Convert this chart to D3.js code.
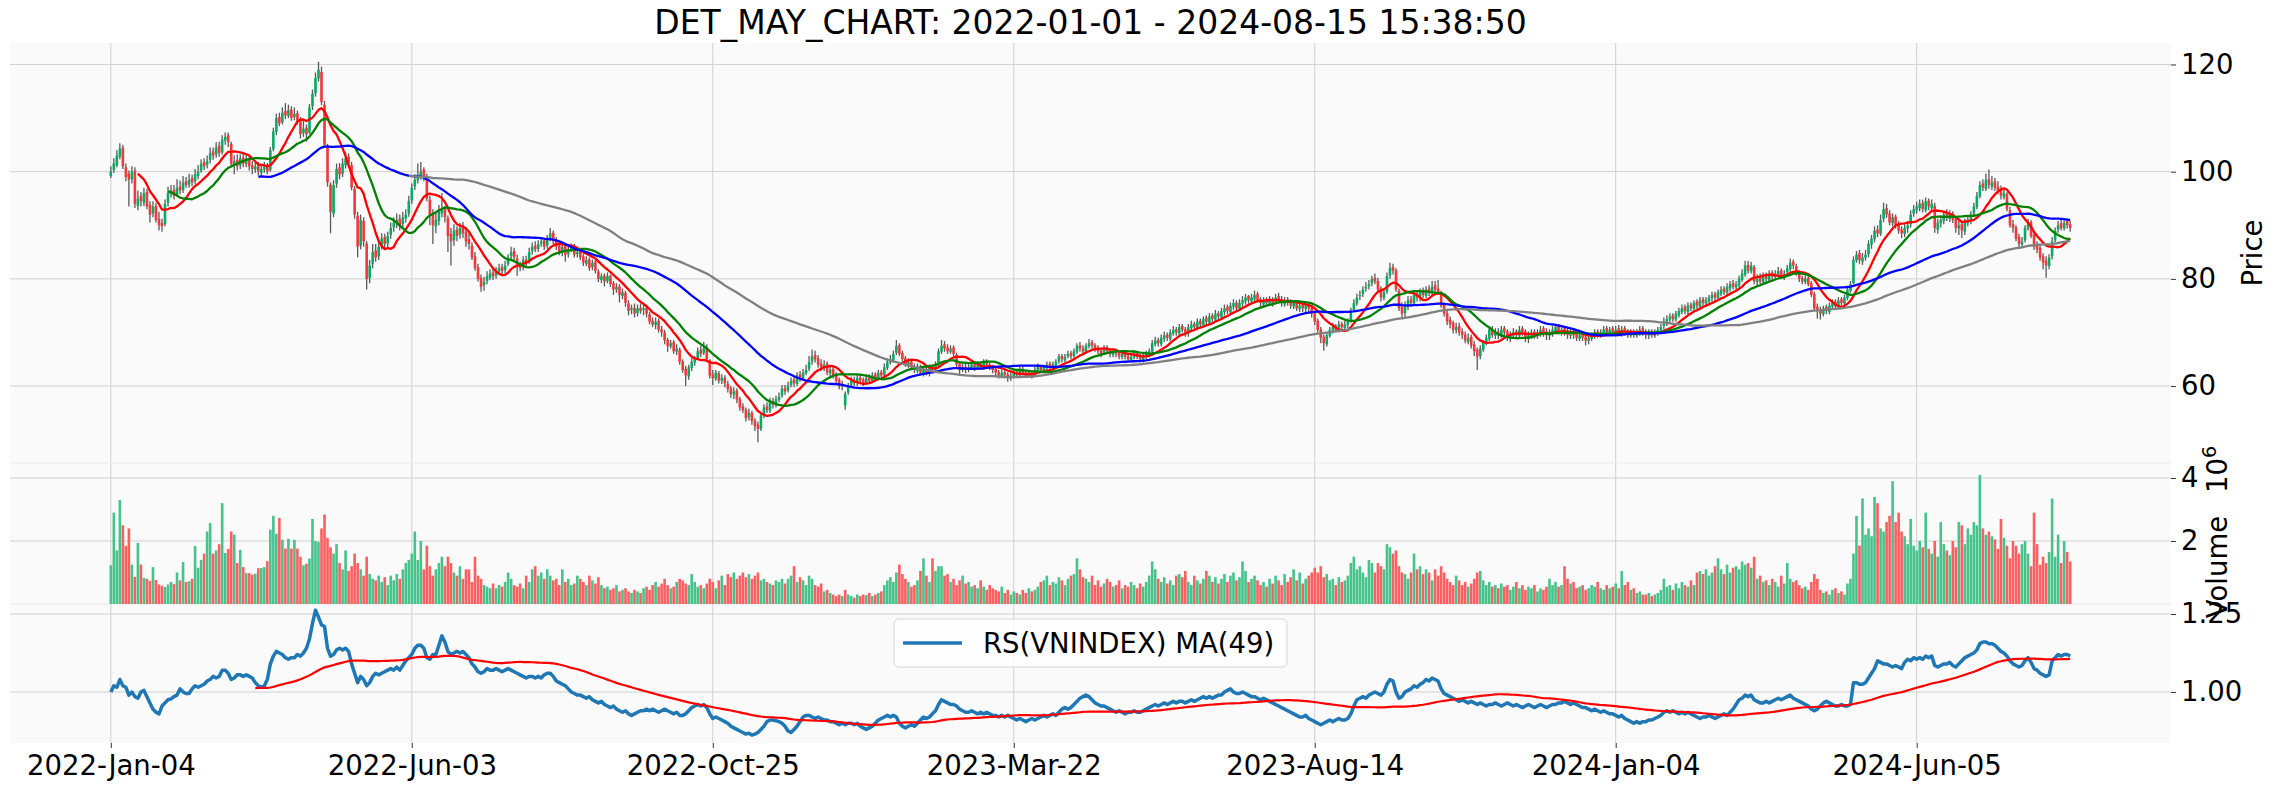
<!DOCTYPE html>
<html>
<head>
<meta charset="utf-8">
<script src="https://cdn.jsdelivr.net/npm/d3@7"></script>
<style>
  body { margin: 0; background: #fff; }
  svg text { font-family: "DejaVu Sans", sans-serif; fill: #000; }
</style>
</head>
<body>
<div id="chart"></div>
<script>
// daily candles, one value per trading day (index 0 = 2022-01-04)
const opens = [
/*0*/ 99.2,100.3,101.2,102.8,104.5,100.8,99.6,98.6,100.2,93.6,
/*10*/ 95.5,94.2,96.2,93.8,92.2,93.6,91.2,90.4,90.2,94.2,
/*20*/ 95.8,96.6,95.8,97.2,96.6,98.2,97.6,98.8,98.2,99.2,
/*30*/ 100.2,101.8,101.2,102.2,103.8,103.2,104.8,103.6,105.8,106.8,
/*40*/ 105.2,101.3,102.2,101.2,102.6,101.4,102.3,101.2,100.4,101.2,
/*50*/ 99.8,100.4,101.2,100.3,104.2,107.4,110.2,109.2,111.3,110.4,
/*60*/ 111.6,110.2,110.9,109.6,107.2,108.2,107.3,112.2,114.6,117.4,
/*70*/ 118.6,112.5,104.6,97.6,92.2,97.8,100.8,99.6,101.2,102.8,
/*80*/ 101.2,96.8,91.8,86.2,90.8,86.6,80.2,82.8,85.3,84.2,
/*90*/ 86.2,87.8,86.6,88.2,89.6,90.4,91.2,90.2,91.3,92.2,
/*100*/ 94.6,97.2,98.4,99.2,100.4,99.2,94.8,92.2,89.8,90.8,
/*110*/ 92.2,93.2,91.4,88.4,87.2,89.2,88.2,89.6,88.8,87.4,
/*120*/ 86.2,84.2,82.2,80.2,78.8,79.6,80.2,81.2,80.6,81.4,
/*130*/ 82.2,81.6,82.8,84.2,85.2,83.8,82.6,82.2,83.6,83.2,
/*140*/ 85.2,86.2,85.6,86.6,87.2,86.2,87.6,88.6,87.2,86.2,
/*150*/ 84.8,86.2,84.6,85.4,86.2,84.6,85.2,84.2,82.8,83.6,
/*160*/ 82.2,83.2,81.4,79.8,80.6,79.6,80.6,79.2,78,78.6,
/*170*/ 76.8,77.4,75.4,74.2,74.6,73.6,74.6,74.2,74.6,73.4,
/*180*/ 72.2,71.4,72.2,70.6,70,68.6,67.4,68.2,66.4,66.8,
/*190*/ 64.6,63.2,61.8,63.4,64.4,65.2,66.8,66.2,67.2,64.8,
/*200*/ 62.2,61.4,62.4,61,61.6,60.4,59.6,58.4,59.2,57.6,
/*210*/ 56.2,55.6,54.2,55,53.6,52.8,52,54.4,56.2,55.4,
/*220*/ 57.2,56.4,57.4,58.2,59.6,59.2,60.2,61.2,60.4,62.2,
/*230*/ 61.4,62.4,63.2,64.6,65.8,65.2,64.2,63.4,64.2,62.4,
/*240*/ 63.2,62.2,61.2,60.4,56.4,58.8,60.2,61.2,60.6,61.6,
/*250*/ 61.2,60.4,61.6,61,62.2,61.4,62.6,62,63.4,64.4,
/*260*/ 64.8,66.2,67.6,66.2,65.2,64,64.6,63.6,62.8,63.6,
/*270*/ 62.4,63.2,62.4,63.6,63,64,66.4,67.8,67.2,66.4,
/*280*/ 67.2,65.8,64.2,63,63.6,63,63.4,64.2,63.4,64.2,
/*290*/ 63.4,64.6,64,63.6,63.2,62.6,61.8,62.6,62.2,61.4,
/*300*/ 61.8,62.6,62,63.2,62.6,61.8,62.6,62.2,62.8,63.6,
/*310*/ 62.8,63.4,64.2,63.4,63.8,64.6,65.6,64.8,65.6,66.2,
/*320*/ 65.6,66.4,67.6,67,66.4,67.4,68.2,67.6,67.2,66.6,
/*330*/ 66.2,67.2,66.6,65.8,66.6,66.2,65.4,66.2,65.6,64.8,
/*340*/ 65.4,66.2,65.6,64.8,65.4,65.8,66.4,67.8,68.6,67.8,
/*350*/ 68.8,69.6,68.8,69.8,70.6,69.8,71.2,70.6,69.8,70.8,
/*360*/ 71.6,70.8,72.2,71.4,72.8,71.8,73.2,72.4,73.6,72.8,
/*370*/ 73.8,74.8,73.8,74.8,75.6,74.4,75.4,75.8,76.8,75.8,
/*380*/ 76.2,77.2,76.2,75.2,76.2,75.4,76.2,75.6,76.8,76.2,
/*390*/ 75.2,76.2,75.8,74.8,75.6,74.4,75.2,74.4,75.2,74.6,
/*400*/ 73.6,72.2,70.6,69.2,67.8,69.4,70.4,71.2,70.4,71.6,
/*410*/ 70.8,71.4,72.2,74.2,75.4,76.8,77.2,78.2,78.6,79.2,
/*420*/ 80.2,79.6,78.2,76.4,77.6,80.6,82.2,81.6,77.8,74.8,
/*430*/ 73.6,74.8,76.2,75.4,77.2,76.4,77.8,76.8,78.2,77.4,
/*440*/ 78.8,78.2,77.4,75.2,73.6,72.4,71.8,70.4,71.2,70.2,
/*450*/ 69.6,68.2,69.2,67.8,66.8,65.6,66.8,68.2,68.8,70.6,
/*460*/ 69.4,70.2,69.4,70.8,70.2,68.8,69.4,70.2,69.4,70.8,
/*470*/ 70.2,68.8,69.4,70.2,69.4,69.8,70.8,70.2,69.4,69.8,
/*480*/ 70.2,71.2,69.8,70.8,70.2,69.4,70.2,69.8,68.8,69.8,
/*490*/ 69.2,68.4,68.8,69.4,70.2,69.4,69.8,70.8,69.8,70.8,
/*500*/ 69.8,70.8,69.8,70.8,70.2,69.4,70.2,69.4,69.8,70.8,
/*510*/ 70.2,69.4,70.2,69.4,69.8,70.4,71.2,71.8,72.4,73.2,
/*520*/ 72.4,73.2,73.8,74.8,73.8,75.2,74.4,75.8,74.8,76.2,
/*530*/ 75.4,75.8,76.4,77.2,76.4,77.2,78.2,77.4,78.2,79.2,
/*540*/ 78.4,78.8,79.8,80.8,82.6,81.4,82.2,79.4,80.4,79.4,
/*550*/ 80.8,79.8,81.2,80.4,80.8,81.6,80.4,81.2,81.8,83.2,
/*560*/ 82.4,81.2,80.2,79.4,80.2,79.2,77.2,74.8,74.2,73.4,
/*570*/ 74.8,73.8,74.8,75.8,74.8,76.2,75.4,76.4,77.8,79.2,
/*580*/ 83.4,84.8,83.2,84,84.6,86.4,87.4,89.2,88.4,91.2,
/*590*/ 93.2,92.2,90.4,91.6,90.2,89.2,88.4,89.4,90.2,92.2,
/*600*/ 92.8,93.2,94.2,92.8,94.6,93.2,93.6,89.2,90.4,90.8,
/*610*/ 92.2,91.2,92.2,91.2,89.4,90.2,88.8,90.4,90.8,92.2,
/*620*/ 93.4,95.4,97.8,96.8,98.6,97.2,98.2,97.2,96.8,95.2,
/*630*/ 95.8,92.8,90.2,89.6,87.8,86.4,87.2,89.4,90.6,88.2,
/*640*/ 86.4,85.8,84.2,83.4,82.4,84.2,87.2,89.2,90.4,89.4,
/*650*/ 90.8,90.2
];

const highs = [
/*0*/ 101,102.5,104,105.3,105,101.5,100.2,101,100.8,96.5,
/*10*/ 96.2,97,96.8,94.5,94.5,94.2,92.5,91.2,94.8,97.2,
/*20*/ 97.5,97.5,98.6,98.3,99.2,99,99.6,99.4,100.5,101.2,
/*30*/ 102.3,102.5,103,104.5,104.5,105.5,105.6,106.8,107.3,107.3,
/*40*/ 105.6,103,103.2,103.2,103.3,103.2,102.8,102,101.8,101.8,
/*50*/ 101.2,101.8,101.6,104.6,108.2,110.8,111,112,112.8,112.5,
/*60*/ 112.2,112,111.4,110.2,109.8,108.8,112.6,115.3,118.5,120.5,
/*70*/ 119.6,113.2,105.2,98,98.4,101.5,101.6,102.5,103.6,103.4,
/*80*/ 101.8,97.3,92.5,92,91.5,87,83.5,86.5,86.5,87,
/*90*/ 88.5,88.4,88.8,90.5,91.5,92.2,92,92.5,93,95.5,
/*100*/ 97.8,99.5,101.5,101.8,100.8,99.6,95.5,93,92.5,93.8,
/*110*/ 96,93.6,91.8,89.5,90.2,89.8,90.4,90.6,89.5,88.5,
/*120*/ 86.8,85,82.8,80.8,80.4,81.4,81.8,81.8,82.2,82.8,
/*130*/ 82.8,83.4,84.6,86,85.8,84.5,83.2,84.2,84.3,85.8,
/*140*/ 86.8,87,87.2,87.8,87.6,88.2,89.5,89,87.8,86.8,
/*150*/ 86.8,86.6,86.2,86.6,86.5,85.8,85.6,84.6,84.2,84,
/*160*/ 83.6,83.6,81.8,81,81,81.2,80.8,79.6,79.2,79,
/*170*/ 78.2,77.8,76,75.2,75.4,75.2,75.4,75.4,75.2,73.8,
/*180*/ 72.8,72.8,72.6,71.2,70.5,69,68.6,68.6,67.8,67.2,
/*190*/ 65,63.8,64,65.2,65.6,67.2,67.5,68.2,67.8,65,
/*200*/ 63,63,62.8,62.2,62,61,60,59.8,59.6,58,
/*210*/ 56.8,56,55.8,55.4,54,53.4,55,56.6,57,57.8,
/*220*/ 57.8,58.2,58.8,60.2,60.2,60.8,61.6,61.6,62.6,62.8,
/*230*/ 63.2,64,65.6,66.8,66.6,65.8,65,64.8,64.6,63.8,
/*240*/ 63.6,62.6,61.6,61,59,60.6,61.8,61.8,62.2,62.2,
/*250*/ 61.6,62,62.2,62.6,62.6,63,63,64.2,65.2,65.8,
/*260*/ 66.6,68.6,68,66.6,65.6,65.2,65,64.2,64.2,64,
/*270*/ 63.6,63.6,64,64,64.6,67,68.6,68.4,67.8,67.6,
/*280*/ 67.6,66.2,64.6,64.2,64.2,64.2,64.6,64.6,64.6,64.6,
/*290*/ 65,65,64.4,64,63.6,63,63,63,62.6,62.6,
/*300*/ 63,63,63.6,63.6,63,63,62.8,63.6,64.2,64,
/*310*/ 64,64.6,64.6,64.6,65,66,66,66,66.6,66.6,
/*320*/ 67,68,68.2,67.6,68,68.8,68.6,68,67.6,67,
/*330*/ 67.6,67.6,67,67,67,66.6,66.6,66.6,66,66,
/*340*/ 66.6,66.6,66,66,66.6,67,68.6,69.2,69,69.6,
/*350*/ 70.2,70,70.6,71.2,71,71.6,71.6,71,71.6,72.2,
/*360*/ 72,72.6,72.6,73,73.2,73.6,73.6,74.2,74,74.6,
/*370*/ 75.2,75.2,75.6,76.2,76,76.2,76.8,77.2,77,77.2,
/*380*/ 77.8,77.6,76.6,76.6,76.6,76.8,76.6,77.2,77.4,76.8,
/*390*/ 76.6,76.6,76.2,76,76,75.6,75.6,75.6,75.6,75,
/*400*/ 74,72.6,71,69.6,70,71,71.8,71.6,72.2,72,
/*410*/ 72.2,72.6,74.6,76.2,77.2,77.8,78.6,79.4,79.8,80.6,
/*420*/ 81,80.2,78.6,78.2,81.2,83,82.8,82,78.2,75.6,
/*430*/ 75.8,76.8,76.8,77.6,77.6,78.2,78.4,78.6,78.8,79.6,
/*440*/ 79.6,79.8,77.8,75.6,74.2,73,72.2,71.8,71.8,70.8,
/*450*/ 70.2,69.8,69.6,68.4,67.2,67.6,68.6,69.6,71,71.2,
/*460*/ 70.8,70.8,71.2,71.2,70.6,70.2,70.8,70.6,71.2,71.2,
/*470*/ 70.6,70.2,70.6,70.6,70.6,71.2,71.2,70.8,70.6,71.2,
/*480*/ 71.6,71.6,71,71.2,70.8,70.6,70.8,70.2,70.2,70.2,
/*490*/ 69.6,69.6,70,70.6,70.6,70.6,71.2,71.2,71,71.2,
/*500*/ 71.2,71.4,71.2,71.2,70.6,70.6,70.6,70.6,71.2,71.2,
/*510*/ 70.6,70.6,70.6,70.6,71,71.6,72.8,73.2,73.6,73.6,
/*520*/ 74,74.6,75.2,75.2,75.6,75.6,76,76.2,76.6,76.6,
/*530*/ 76.6,77,77.6,77.6,78,78.6,78.6,79.2,79.6,79.8,
/*540*/ 79.6,80.6,81.8,83.4,83.4,83.2,82.6,80.8,81,81.2,
/*550*/ 81.2,81.6,81.6,81.6,82.2,82,81.6,82.6,83.8,83.6,
/*560*/ 82.8,81.6,80.6,80.6,80.6,79.6,77.6,75.4,74.8,75,
/*570*/ 75.2,75.6,76.2,76.2,76.6,76.6,77,78.6,79.6,84.2,
/*580*/ 85.2,85.4,84.8,85.4,87.2,88.2,89.8,90,92,94.2,
/*590*/ 94,92.8,92.2,92,90.8,89.8,90.2,90.8,92.8,93.8,
/*600*/ 94.4,94.8,94.8,95.2,95,94.8,94.2,91.2,91.8,92.6,
/*610*/ 93,92.8,92.6,91.6,90.8,90.6,91.2,91.6,92.6,94.2,
/*620*/ 96.2,98.2,98.6,99.6,100.4,99.2,98.8,98.2,97.4,96.8,
/*630*/ 96.2,93.4,91,90,88.4,87.8,90,91.2,91,88.8,
/*640*/ 87,86.4,84.8,84.2,84.6,87.8,89.6,90.8,91,91.2,
/*650*/ 91.2,90.8
];

const lows = [
/*0*/ 98.8,99.8,100.8,102.3,100.5,98.2,93.5,97.8,93.2,92.8,
/*10*/ 93.5,93.6,93,90.5,91.5,90.5,89,88.8,89.8,93.5,
/*20*/ 95.2,94.8,95.3,95.8,96,97,97,97.3,97.6,98.6,
/*30*/ 99.8,100.3,100.6,101.5,102.2,102.6,102.8,103.2,105,104.6,
/*40*/ 100.8,99.5,100.2,100.5,100.8,100.8,100.2,99.5,99.8,99.3,
/*50*/ 99.3,99.8,99.5,100,103.8,106.8,108.5,108.8,109.8,110,
/*60*/ 109.5,109.6,108.8,106.2,106.5,105.6,107,111.5,114,116.8,
/*70*/ 112.4,104.5,97.2,88.5,91.5,97,98.6,99,100.6,100.8,
/*80*/ 96.5,91.2,84,85.5,86,78,79.2,82,83.2,83.5,
/*90*/ 85.5,85.8,85.8,87.5,88.8,89.5,89,89.6,90.5,91.6,
/*100*/ 94,96.6,97.8,98.5,98.2,94.5,90,86.5,88.5,90,
/*110*/ 91.5,90.5,85,82.5,86.2,87,87.5,87.6,86,85.5,
/*120*/ 83.5,81.5,79.5,77.6,77.8,79,79.8,79.8,80,80.8,
/*130*/ 80.8,81,82.4,83.6,83.5,80.6,81.4,81.6,82.4,82.8,
/*140*/ 84.5,85,85,86,85.4,85.6,87,86.5,85.4,84.4,
/*150*/ 84.2,83.2,84,85,84,84,83.5,82.4,82.4,81.5,
/*160*/ 81.6,81,79.4,79.2,78.6,79.2,78.5,77,77.4,75.6,
/*170*/ 76.2,74.8,73.2,73.4,72.8,73,73.5,73.2,72.8,71.5,
/*180*/ 71,70.6,70,69.2,67.8,66.4,67,66,65.8,64,
/*190*/ 62.5,60,61.2,62.8,63.8,64.8,65.4,65.8,64.5,61.4,
/*200*/ 60.2,61,60.5,60.4,59.8,58.8,57.8,57.6,56.8,55.4,
/*210*/ 55,53.4,53.6,52.8,51.6,49.5,51.6,54,55,55,
/*220*/ 55.8,56,57,57.8,58.4,58.8,59.8,59.8,60,60.8,
/*230*/ 61,62,62.8,64,64.4,63.4,62.8,62.8,62,61.8,
/*240*/ 61.4,60.4,59.4,59.2,55.6,58.4,59.8,60,60,60.4,
/*250*/ 60,60.2,60.6,60.8,61,61.2,61.6,61.8,63,64,
/*260*/ 64.4,65.8,65.6,64.6,63.6,63.4,63,62.4,62.4,62,
/*270*/ 61.8,62,61.8,62.4,62.6,63.6,66,66.4,66,66,
/*280*/ 65.6,63.4,62.2,62.6,62.4,62.6,63,62.8,63,63,
/*290*/ 63,63.4,63,62.4,62,61.4,61.4,61.4,60.8,61,
/*300*/ 61.4,61.6,61.6,62,61.6,61.6,61.4,61.8,62.4,62.6,
/*310*/ 62.4,63,63,63,63.4,64.2,64.4,64.4,65.2,65,
/*320*/ 65.2,66,66.4,66,66,67,67,66.4,66,65.4,
/*330*/ 65.8,66,65.4,65.4,65.4,65,65,65,64.4,64.4,
/*340*/ 65,65,64.4,64.4,65,65.4,66,67.4,67.4,67.4,
/*350*/ 68.2,68.4,68.4,69.4,69.4,69.4,70,69.2,69.2,70.2,
/*360*/ 70.4,70.4,71,71,71.4,71.4,72,72,72.4,72.4,
/*370*/ 73.2,73.4,73.4,74.2,74,74,74.8,75.2,75.4,75.4,
/*380*/ 75.6,75.6,74.8,74.8,75,75,74.8,75.2,75.4,74.8,
/*390*/ 74.8,75,74.4,74.4,74,73.8,73.8,73.8,73.8,72.8,
/*400*/ 71.4,70,68,66.6,67.4,69,69.8,70,70,70.4,
/*410*/ 70.4,70.8,71.8,73.8,75,76,76.6,77.6,78,78.6,
/*420*/ 79,77.4,75.8,76,77.2,80,80.8,77.6,74,72.6,
/*430*/ 72.8,74.2,74.8,75,75.8,75.8,76.4,76.4,76.8,77,
/*440*/ 77.4,77,74.6,73,71.4,70.8,69.8,69.8,69.4,68.8,
/*450*/ 68,67.8,67,65.6,63,65,66.4,67.6,68.4,69,
/*460*/ 68.8,68.8,69,69.4,68.4,68.2,68.8,69,69,69.4,
/*470*/ 68.2,68,68.8,68.8,68.8,69.2,69.2,68.6,68.6,69.2,
/*480*/ 69.8,69.6,69.4,69.4,68.8,68.8,68.8,68.4,68.4,68.4,
/*490*/ 67.6,67.8,68.4,68.8,69,69,69.4,69.4,69.4,69.4,
/*500*/ 69.2,69.4,69.2,69.4,69,69,69,69,69.4,69.4,
/*510*/ 68.8,68.8,69,69,69.4,69.8,70.6,71.2,71.8,72,
/*520*/ 72,72.8,73.4,73.4,73.4,74,74,74.4,74.4,75,
/*530*/ 74.8,75.4,75.8,75.8,76,76.8,77,77,77.6,78,
/*540*/ 77.8,78.4,79.4,80.4,81,81,79,78.6,79,79,
/*550*/ 79.4,79.4,79.8,80,80.4,80,79.8,80.6,81.2,81.8,
/*560*/ 80.6,79.4,79,79,78.6,76.6,74,72.6,72.4,73,
/*570*/ 73.4,73.4,74.4,74.4,74.4,75,75,76,77.4,79,
/*580*/ 83,82.8,82.6,83.4,84,85.6,86.8,87.8,88,90.6,
/*590*/ 91.4,90,89.8,89.4,88.4,87.6,87.8,88.6,89.6,91.6,
/*600*/ 92.2,92.6,92.4,92.4,92.8,92.8,88.6,88.4,89.6,90.2,
/*610*/ 90.8,90.6,90.4,88.6,88.2,87.6,88.2,89.8,90.2,91.6,
/*620*/ 93,95,96.4,96.4,96.8,96.6,96.4,95.8,94.8,94.8,
/*630*/ 92.6,89.6,88.6,87,85.6,85.8,86.8,89,87.6,85.4,
/*640*/ 84.8,83.4,81.8,80.2,81.8,83.6,86.8,88.6,89,89,
/*650*/ 89.4,88.8
];

const closes = [
/*0*/ 100,101.5,103,104.3,101,99,98.5,100,94,95,
/*10*/ 94.5,96,93.5,92,93.5,91,90,89.8,94,96,
/*20*/ 96.5,95.5,97,96.5,98,97.5,98.5,98,99.5,100,
/*30*/ 101.5,101,102,103.5,103,104.5,103.5,106,106.5,105.5,
/*40*/ 101.5,102,101,102.5,101.5,102.5,101,100.5,101,100,
/*50*/ 100.5,101,100,104,107.5,110,109,111,110.5,111.5,
/*60*/ 110,110.8,109.5,107,108,107,112,114.5,117.5,119,
/*70*/ 113,105,98,92.5,97.5,100.5,99.5,101.5,102.5,101.5,
/*80*/ 97,92,86,91,87,80,82.5,85,84,86,
/*90*/ 87.5,86.5,88,89.5,90.5,91,90,91.5,92,94.5,
/*100*/ 97,98.5,99.5,100,99,95,92,90,91,92.5,
/*110*/ 93,91.5,88,87,89,88,89.5,88.5,87,86.5,
/*120*/ 84,82,80,78.5,79.5,80.5,81,80.5,81.5,82,
/*130*/ 81.5,82.5,84,85,84,82.5,82,83.5,83,85,
/*140*/ 86,85.5,86.5,87,86,87.5,88.5,87,86,85,
/*150*/ 86,84.5,85.5,86,84.5,85,84,83,83.5,82,
/*160*/ 83,81.5,80,80.5,79.5,80.5,79,78,78.5,77,
/*170*/ 77.5,75.5,74,74.5,73.5,74.5,74,74.5,73.5,72,
/*180*/ 71.5,72,70.5,70,68.5,67.5,68,66.5,67,64.5,
/*190*/ 63,62,63.5,64.5,65,66.5,66,67,65,62,
/*200*/ 61.5,62.5,61,61.5,60.5,59.5,58.5,59,57.5,56,
/*210*/ 55.5,54,55,53.5,52.5,52,54.5,56,55.5,57,
/*220*/ 56.5,57.5,58,59.5,59,60,61,60.5,62,61.5,
/*230*/ 62.5,63,64.5,65.5,65,64,63.5,64,62.5,63,
/*240*/ 62,61,60,60,58.5,60,61,60.5,61.5,61,
/*250*/ 60.5,61.5,61,62,61.5,62.5,62,63.5,64.5,65,
/*260*/ 66,67.5,66,65,64,64.5,63.5,63,63.5,62.5,
/*270*/ 63,62.5,63.5,63,64,66.5,67.5,67,66.5,67,
/*280*/ 66,64,63,63.5,63,63.5,64,63.5,64,63.5,
/*290*/ 64.5,64,63.5,63,62.5,62,62.5,62,61.5,62,
/*300*/ 62.5,62,63,62.5,62,62.5,62,63,63.5,63,
/*310*/ 63.5,64,63.5,64,64.5,65.5,65,65.5,66,65.5,
/*320*/ 66.5,67.5,67,66.5,67.5,68,67.5,67,66.5,66,
/*330*/ 67,66.5,66,66.5,66,65.5,66,65.5,65,65.5,
/*340*/ 66,65.5,65,65.5,66,66.5,68,68.5,68,69,
/*350*/ 69.5,69,70,70.5,70,71,70.5,70,71,71.5,
/*360*/ 71,72,71.5,72.5,72,73,72.5,73.5,73,74,
/*370*/ 74.5,74,75,75.5,74.5,75.5,76,76.5,76,76.5,
/*380*/ 77,76,75.5,76,75.5,76,75.5,76.5,76,75.5,
/*390*/ 76,75.5,75,75.5,74.5,75,74.5,75,74.5,73.5,
/*400*/ 72,70.5,69,68,69.5,70.5,71,70.5,71.5,71,
/*410*/ 71.5,72,74,75.5,76.5,77,78,78.5,79,80,
/*420*/ 79.5,78,76.5,77.5,80.5,82,81.5,78,74.5,73.5,
/*430*/ 75,76,75.5,77,76.5,77.5,77,78,77.5,78.5,
/*440*/ 78,77.5,75,73.5,72,71.5,70.5,71,70,69.5,
/*450*/ 68.5,69,67.5,66.5,65.5,67,68,69,70.5,69.5,
/*460*/ 70,69.5,70.5,70,69,69.5,70,69.5,70.5,70,
/*470*/ 69,69.5,70,69.5,70,70.5,70,69.5,70,70.5,
/*480*/ 71,70,70.5,70,69.5,70,69.5,69,69.5,69,
/*490*/ 68.5,69,69.5,70,69.5,70,70.5,70,70.5,70,
/*500*/ 70.5,70,70.5,70,69.5,70,69.5,70,70.5,70,
/*510*/ 69.5,70,69.5,70,70.5,71,72,72.5,73,72.5,
/*520*/ 73.5,74,74.5,74,75,74.5,75.5,75,76,75.5,
/*530*/ 76,76.5,77,76.5,77.5,78,77.5,78.5,79,78.5,
/*540*/ 79,80,81,82.5,81.5,82.5,79.5,80,79.5,80.5,
/*550*/ 80,81,80.5,81,81.5,80.5,81,82,83,82.5,
/*560*/ 81,80,79.5,80,79,77,74.5,74,73.5,74.5,
/*570*/ 74,75,75.5,75,76,75.5,76.5,78,79,83.5,
/*580*/ 84.5,83.5,84,84.5,86.5,87.5,89,88.5,91,93,
/*590*/ 92,90.5,91.5,90,89,88.5,89.5,90,92,93,
/*600*/ 93.5,94,93,94.5,93.5,94,89.5,90.5,91,92,
/*610*/ 91.5,92,91,89.5,90,89,90.5,91,92,93.5,
/*620*/ 95.5,97.5,97,98.5,97.5,98,97,96.5,95.5,96,
/*630*/ 93,90,89.5,87.5,86.5,87,89.5,90.5,88,86,
/*640*/ 85.5,84,83,82.5,84,87,89,90,89.5,90.5,
/*650*/ 90,89.5
];

// volume in millions of shares
const volumes = [
/*0*/ 1.23,2.9,1.7,3.3,2.5,1.85,2.4,1.25,0.86,1.94,
/*10*/ 1.25,0.83,0.8,0.73,1.17,0.76,0.62,0.58,0.54,0.62,
/*20*/ 0.7,0.63,1.0,0.75,1.33,0.7,0.72,0.8,1.84,1.15,
/*30*/ 1.4,1.6,2.3,2.57,1.6,1.7,1.9,3.2,1.62,1.75,
/*40*/ 2.3,2.2,1.3,1.72,1.17,0.98,0.98,0.93,0.96,1.14,
/*50*/ 1.14,1.17,1.36,2.36,2.8,2.23,2.73,2.04,1.76,2.07,
/*60*/ 1.76,2.04,1.76,1.5,1.23,1.28,1.44,2.7,2.0,1.97,
/*70*/ 2.4,2.84,2.1,1.8,1.6,1.9,1.3,1.1,1.7,1.05,
/*80*/ 1.2,1.6,1.3,1.1,0.9,1.5,0.95,0.8,0.75,0.9,
/*90*/ 0.7,0.85,0.6,0.9,0.75,0.95,0.8,1.1,1.3,1.4,
/*100*/ 1.6,2.3,1.4,2.0,1.1,1.85,1.2,0.9,1.1,1.3,
/*110*/ 1.5,1.2,1.5,1.3,1.0,0.9,1.2,0.8,1.1,1.1,
/*120*/ 0.7,1.5,0.9,0.8,0.6,0.55,0.5,0.65,0.5,0.6,
/*130*/ 0.55,0.7,1.0,0.8,0.6,0.55,0.65,0.5,0.9,0.7,
/*140*/ 1.1,1.2,0.9,1.0,0.8,1.1,0.9,0.75,0.8,0.6,
/*150*/ 1.1,0.7,0.8,0.6,0.65,0.9,0.8,0.7,0.6,0.9,
/*160*/ 0.75,0.65,0.85,0.6,0.5,0.55,0.45,0.5,0.6,0.4,
/*170*/ 0.45,0.5,0.4,0.35,0.45,0.4,0.35,0.5,0.55,0.45,
/*180*/ 0.6,0.7,0.55,0.65,0.8,0.6,0.5,0.55,0.7,0.8,
/*190*/ 0.75,0.65,0.6,0.95,0.7,0.55,0.6,0.5,0.65,0.8,
/*200*/ 0.7,0.5,0.75,0.9,0.6,0.95,0.85,1.0,0.8,0.9,
/*210*/ 1.0,0.85,0.95,0.8,0.9,1.0,0.75,0.8,0.7,0.65,
/*220*/ 0.6,0.75,0.7,0.8,0.65,0.8,0.9,1.2,0.7,0.85,
/*230*/ 0.75,0.6,0.9,0.8,0.6,0.55,0.65,0.4,0.45,0.35,
/*240*/ 0.3,0.25,0.3,0.25,0.45,0.3,0.25,0.2,0.3,0.25,
/*250*/ 0.3,0.28,0.35,0.25,0.3,0.35,0.4,0.6,0.75,0.85,
/*260*/ 0.7,1.0,1.25,0.95,0.8,0.7,0.55,0.6,0.75,1.05,
/*270*/ 1.45,0.9,0.7,1.45,1.05,1.2,1.2,0.9,0.95,0.7,
/*280*/ 0.8,0.6,0.75,0.9,0.65,0.7,0.55,0.6,0.5,0.75,
/*290*/ 0.55,0.45,0.6,0.5,0.45,0.4,0.55,0.35,0.45,0.3,
/*300*/ 0.4,0.35,0.3,0.45,0.35,0.5,0.4,0.45,0.55,0.7,
/*310*/ 0.75,0.9,0.6,0.7,0.65,0.85,0.75,0.6,0.8,0.9,
/*320*/ 0.95,1.45,1.1,0.85,0.8,0.7,0.9,0.6,0.75,0.55,
/*330*/ 0.65,0.8,0.7,0.55,0.6,0.75,0.5,0.6,0.55,0.7,
/*340*/ 0.6,0.5,0.65,0.55,0.7,0.9,1.35,1.1,0.8,0.7,
/*350*/ 0.85,0.65,0.75,0.6,0.9,0.95,0.85,1.05,0.7,0.6,
/*360*/ 0.9,0.75,0.65,0.8,1.05,0.9,0.7,0.85,0.65,0.8,
/*370*/ 0.95,0.7,0.9,1.0,0.75,0.85,1.35,1.05,0.7,0.8,
/*380*/ 0.9,0.75,0.6,0.7,0.55,0.8,0.65,0.9,0.75,0.6,
/*390*/ 0.95,0.7,0.85,1.1,0.75,1.0,0.65,0.8,0.9,1.0,
/*400*/ 1.15,1.0,1.2,0.85,0.95,0.75,0.8,0.6,0.85,0.7,
/*410*/ 0.75,0.9,1.3,1.5,1.1,1.2,1.0,0.85,1.4,1.3,
/*420*/ 1.0,1.3,1.2,1.1,1.9,1.8,1.6,1.7,1.2,1.0,
/*430*/ 0.95,0.8,1.0,1.6,1.1,1.2,0.95,1.1,1.0,0.75,
/*440*/ 1.1,0.9,1.2,1.0,0.8,0.7,0.6,0.9,0.75,0.6,
/*450*/ 0.7,0.55,0.65,0.8,1.0,1.05,0.75,0.6,0.7,0.55,
/*460*/ 0.6,0.5,0.65,0.55,0.6,0.45,0.55,0.7,0.5,0.6,
/*470*/ 0.45,0.55,0.5,0.6,0.4,0.5,0.45,0.55,0.8,0.6,
/*480*/ 0.7,0.55,0.6,1.2,0.8,0.65,0.7,0.5,0.55,0.6,
/*490*/ 0.45,0.5,0.6,0.55,0.7,0.5,0.45,0.6,0.5,0.55,
/*500*/ 0.65,0.5,1.05,0.6,0.7,0.45,0.5,0.35,0.4,0.3,
/*510*/ 0.3,0.35,0.25,0.3,0.35,0.45,0.8,0.55,0.6,0.45,
/*520*/ 0.65,0.5,0.7,0.6,0.55,0.75,0.6,1.0,1.05,0.95,
/*530*/ 1.1,0.9,1.0,1.2,1.45,1.1,0.95,1.25,1.0,1.15,
/*540*/ 1.2,1.1,1.35,1.25,1.3,1.15,1.5,0.8,0.9,0.7,
/*550*/ 0.75,0.6,0.8,0.7,0.55,0.9,0.65,1.3,0.8,0.7,
/*560*/ 0.75,0.6,0.5,0.55,0.45,0.7,0.95,0.8,0.45,0.35,
/*570*/ 0.4,0.3,0.45,0.5,0.35,0.4,0.3,0.65,0.8,1.6,
/*580*/ 2.8,1.85,3.35,2.2,2.4,2.15,3.4,3.2,2.4,2.3,
/*590*/ 2.6,2.8,3.9,2.6,2.9,2.3,2.15,1.9,2.7,1.85,
/*600*/ 1.7,2.0,1.8,2.9,1.75,1.6,2.0,1.5,2.6,1.9,
/*610*/ 1.7,1.55,2.0,1.8,2.6,2.5,1.9,2.4,2.2,2.6,
/*620*/ 2.5,4.1,2.4,2.2,2.3,2.15,2.05,1.75,2.7,2.1,
/*630*/ 1.85,1.45,2.0,1.85,1.6,1.9,2.0,1.6,1.2,2.9,
/*640*/ 1.9,1.25,1.5,1.3,1.65,3.35,1.5,2.2,1.3,2.0,
/*650*/ 1.65,1.35
];

// relative strength against VNINDEX
const rs = [
/*0*/ 1.0,1.02,1.015,1.04,1.02,1.015,0.99,1.0,0.985,0.98,
/*10*/ 1.0,1.005,0.985,0.965,0.945,0.935,0.93,0.955,0.965,0.975,
/*20*/ 0.978,0.985,0.99,1.01,1.0,0.995,0.995,1.01,1.02,1.015,
/*30*/ 1.02,1.025,1.035,1.04,1.05,1.045,1.05,1.07,1.07,1.06,
/*40*/ 1.04,1.045,1.055,1.055,1.05,1.055,1.05,1.045,1.03,1.02,
/*50*/ 1.015,1.02,1.04,1.09,1.115,1.13,1.125,1.12,1.11,1.105,
/*60*/ 1.11,1.11,1.12,1.115,1.125,1.14,1.17,1.22,1.262,1.24,
/*70*/ 1.215,1.21,1.14,1.115,1.12,1.135,1.14,1.135,1.14,1.13,
/*80*/ 1.09,1.06,1.03,1.05,1.04,1.02,1.03,1.05,1.06,1.055,
/*90*/ 1.06,1.065,1.07,1.075,1.07,1.08,1.07,1.085,1.1,1.11,
/*100*/ 1.12,1.14,1.15,1.15,1.14,1.11,1.105,1.12,1.12,1.15,
/*110*/ 1.18,1.16,1.13,1.12,1.125,1.13,1.125,1.13,1.12,1.11,
/*120*/ 1.09,1.08,1.065,1.06,1.065,1.075,1.07,1.07,1.075,1.07,
/*130*/ 1.065,1.07,1.075,1.07,1.065,1.06,1.055,1.05,1.045,1.05,
/*140*/ 1.05,1.045,1.05,1.045,1.055,1.06,1.06,1.05,1.035,1.03,
/*150*/ 1.025,1.02,1.01,1.0,0.995,0.99,0.99,0.985,0.98,0.985,
/*160*/ 0.975,0.97,0.965,0.97,0.96,0.955,0.95,0.955,0.945,0.94,
/*170*/ 0.935,0.94,0.93,0.925,0.93,0.935,0.94,0.94,0.945,0.94,
/*180*/ 0.945,0.94,0.935,0.94,0.945,0.94,0.935,0.93,0.935,0.925,
/*190*/ 0.925,0.93,0.94,0.95,0.955,0.96,0.955,0.96,0.95,0.93,
/*200*/ 0.915,0.92,0.915,0.91,0.905,0.9,0.89,0.885,0.88,0.875,
/*210*/ 0.87,0.865,0.868,0.862,0.865,0.87,0.88,0.89,0.905,0.91,
/*220*/ 0.91,0.908,0.905,0.9,0.89,0.875,0.87,0.88,0.89,0.905,
/*230*/ 0.92,0.925,0.925,0.92,0.915,0.92,0.915,0.91,0.91,0.905,
/*240*/ 0.905,0.9,0.895,0.9,0.895,0.9,0.9,0.895,0.9,0.89,
/*250*/ 0.885,0.88,0.885,0.89,0.9,0.91,0.915,0.92,0.925,0.92,
/*260*/ 0.925,0.92,0.9,0.89,0.885,0.89,0.895,0.89,0.9,0.91,
/*270*/ 0.92,0.915,0.92,0.93,0.94,0.96,0.975,0.97,0.965,0.96,
/*280*/ 0.96,0.955,0.945,0.94,0.935,0.935,0.94,0.935,0.93,0.935,
/*290*/ 0.93,0.935,0.93,0.925,0.925,0.92,0.925,0.92,0.925,0.92,
/*300*/ 0.915,0.91,0.915,0.91,0.905,0.91,0.915,0.91,0.915,0.92,
/*310*/ 0.925,0.92,0.925,0.93,0.925,0.935,0.945,0.95,0.945,0.95,
/*320*/ 0.96,0.97,0.98,0.985,0.99,0.985,0.975,0.965,0.96,0.955,
/*330*/ 0.955,0.95,0.945,0.94,0.935,0.94,0.935,0.93,0.935,0.935,
/*340*/ 0.94,0.935,0.935,0.94,0.945,0.95,0.955,0.96,0.955,0.96,
/*350*/ 0.965,0.96,0.965,0.97,0.965,0.97,0.97,0.965,0.97,0.975,
/*360*/ 0.97,0.975,0.98,0.985,0.98,0.985,0.98,0.985,0.99,0.99,
/*370*/ 1.0,1.005,1.01,1.0,0.995,0.995,1.0,0.995,0.99,0.985,
/*380*/ 0.985,0.98,0.975,0.98,0.975,0.97,0.965,0.96,0.955,0.95,
/*390*/ 0.945,0.94,0.935,0.93,0.925,0.92,0.92,0.925,0.915,0.91,
/*400*/ 0.905,0.9,0.895,0.9,0.905,0.91,0.905,0.91,0.915,0.91,
/*410*/ 0.91,0.915,0.93,0.955,0.975,0.98,0.985,0.98,0.99,0.995,
/*420*/ 1.0,0.995,0.99,1.0,1.025,1.04,1.035,1.0,0.98,0.985,
/*430*/ 1.0,1.005,1.01,1.02,1.015,1.025,1.03,1.04,1.035,1.045,
/*440*/ 1.04,1.035,1.01,0.995,0.99,0.985,0.98,0.975,0.97,0.975,
/*450*/ 0.97,0.965,0.97,0.965,0.96,0.965,0.96,0.955,0.96,0.96,
/*460*/ 0.965,0.96,0.955,0.96,0.965,0.96,0.955,0.96,0.955,0.95,
/*470*/ 0.955,0.96,0.955,0.95,0.955,0.96,0.955,0.95,0.955,0.96,
/*480*/ 0.96,0.965,0.965,0.97,0.965,0.96,0.965,0.96,0.955,0.95,
/*490*/ 0.95,0.945,0.94,0.945,0.94,0.935,0.94,0.935,0.93,0.93,
/*500*/ 0.925,0.92,0.925,0.915,0.91,0.905,0.9,0.905,0.9,0.905,
/*510*/ 0.905,0.91,0.91,0.915,0.92,0.925,0.935,0.94,0.935,0.94,
/*520*/ 0.935,0.93,0.935,0.93,0.935,0.93,0.925,0.92,0.915,0.92,
/*530*/ 0.92,0.925,0.92,0.915,0.92,0.925,0.93,0.925,0.935,0.945,
/*540*/ 0.96,0.975,0.98,0.99,0.985,0.99,0.975,0.97,0.965,0.965,
/*550*/ 0.97,0.965,0.97,0.975,0.98,0.975,0.98,0.985,0.99,0.98,
/*560*/ 0.975,0.97,0.965,0.96,0.955,0.945,0.94,0.945,0.955,0.965,
/*570*/ 0.97,0.965,0.96,0.955,0.955,0.96,0.955,0.955,0.96,1.03,
/*580*/ 1.03,1.025,1.025,1.03,1.045,1.06,1.075,1.1,1.095,1.09,
/*590*/ 1.09,1.085,1.08,1.085,1.08,1.075,1.095,1.105,1.1,1.11,
/*600*/ 1.105,1.11,1.105,1.115,1.11,1.115,1.085,1.08,1.085,1.09,
/*610*/ 1.09,1.095,1.085,1.08,1.09,1.1,1.11,1.115,1.12,1.125,
/*620*/ 1.135,1.155,1.16,1.16,1.155,1.155,1.15,1.14,1.13,1.125,
/*630*/ 1.115,1.1,1.09,1.085,1.08,1.085,1.1,1.11,1.095,1.075,
/*640*/ 1.07,1.06,1.055,1.05,1.055,1.1,1.11,1.12,1.115,1.12,
/*650*/ 1.12,1.115
];

const tickIndex = [0, 100, 200, 300, 400, 500, 600];
const tickLabels = ["2022-Jan-04", "2022-Jun-03", "2022-Oct-25", "2023-Mar-22", "2023-Aug-14", "2024-Jan-04", "2024-Jun-05"];
const priceTicks = [60, 80, 100, 120];
const volumeTicks = [2, 4];
const rsTicks = [1.00, 1.25];
const maWindows = [10, 20, 50, 100];
const maColors = ["#ff0000", "#008000", "#0000ff", "#808080"];
const rsWindow = 49;
const legendLabel = "RS(VNINDEX) MA(49)";
const titleText = "DET_MAY_CHART: 2022-01-01 - 2024-08-15 15:38:50";

const W = 2276, H = 791;
const L = 10, R = 2171;
const N = closes.length;
const FONT = 27.5;

const svg = d3.select("#chart").append("svg")
    .attr("width", W).attr("height", H)
    .style("background", "#fff");

// shared x scale over candle positions (5% margin each side)
const x = d3.scaleLinear().domain([-33.5, N - 1 + 33.5]).range([L, R]);

// panels
const panels = {
    price: { top: 43, bottom: 463 },
    vol: { top: 463, bottom: 604 },
    rs: { top: 604, bottom: 743 }
};
const yP = d3.scaleLinear().domain([45.65, 124]).range([panels.price.bottom, panels.price.top]);
const yV = d3.scaleLinear().domain([0, 4.476]).range([panels.vol.bottom, panels.vol.top]);
const yR = d3.scaleLinear().domain([0.8365, 1.282]).range([panels.rs.bottom, panels.rs.top]);

const defs = svg.append("defs");
Object.entries(panels).forEach(([k, p]) => {
    svg.append("rect")
        .attr("x", L).attr("y", p.top)
        .attr("width", R - L).attr("height", p.bottom - p.top)
        .attr("fill", "#fafafa");
    defs.append("clipPath").attr("id", "clip-" + k)
        .append("rect")
        .attr("x", L).attr("y", p.top)
        .attr("width", R - L).attr("height", p.bottom - p.top);
});

// grid lines
const grid = svg.append("g").attr("stroke", "#d0d0d0").attr("stroke-width", 1);
function hGrid(scale, ticks) {
    ticks.forEach(t => {
        grid.append("line").attr("x1", L).attr("x2", R)
            .attr("y1", scale(t)).attr("y2", scale(t));
    });
}
hGrid(yP, priceTicks);
hGrid(yV, volumeTicks);
hGrid(yR, rsTicks);
Object.values(panels).forEach(p => {
    tickIndex.forEach(i => {
        grid.append("line").attr("x1", x(i)).attr("x2", x(i))
            .attr("y1", p.top).attr("y2", p.bottom);
    });
});
// faint separators between panels
[panels.price.bottom, panels.vol.bottom].forEach(yy => {
    svg.append("line").attr("x1", L).attr("x2", R).attr("y1", yy).attr("y2", yy)
        .attr("stroke", "#ebebeb").attr("stroke-width", 1);
});

// candles
const idx = d3.range(N);
const gc = svg.append("g").attr("clip-path", "url(#clip-price)");
gc.selectAll("line.wick").data(idx).join("line")
    .attr("class", "wick")
    .attr("x1", i => x(i)).attr("x2", i => x(i))
    .attr("y1", i => yP(highs[i])).attr("y2", i => yP(lows[i]))
    .attr("stroke", "#5a5a5a").attr("stroke-width", 1.3);
const bodyW = 2.6;
gc.selectAll("rect.body").data(idx).join("rect")
    .attr("class", "body")
    .attr("x", i => x(i) - bodyW / 2)
    .attr("width", bodyW)
    .attr("y", i => yP(Math.max(opens[i], closes[i])))
    .attr("height", i => Math.max(0.8, Math.abs(yP(opens[i]) - yP(closes[i]))))
    .attr("fill", i => closes[i] >= opens[i] ? "#0aaa66" : "#f4383a");

// moving averages
function rolling(arr, w) {
    return arr.map((_, i) => i < w - 1 ? null : d3.mean(arr.slice(i - w + 1, i + 1)));
}
const lineP = d3.line().defined(d => d[1] != null).x(d => x(d[0])).y(d => yP(d[1]));
maWindows.forEach((w, k) => {
    const ma = rolling(closes, w);
    gc.append("path")
        .attr("d", lineP(ma.map((v, i) => [i, v])))
        .attr("fill", "none")
        .attr("stroke", maColors[k])
        .attr("stroke-width", 2.3)
        .attr("stroke-linejoin", "round");
});

// volume bars
const gv = svg.append("g").attr("clip-path", "url(#clip-vol)");
const barW = 2.6;
gv.selectAll("rect").data(idx).join("rect")
    .attr("x", i => x(i) - barW / 2)
    .attr("width", barW)
    .attr("y", i => yV(volumes[i]))
    .attr("height", i => yV(0) - yV(volumes[i]))
    .attr("fill", i => (i === 0 ? closes[i] >= opens[i] : closes[i] >= closes[i - 1]) ? "#45c38a" : "#fd5e60");

// relative strength
const gr = svg.append("g").attr("clip-path", "url(#clip-rs)");
const lineR = d3.line().defined(d => d[1] != null).x(d => x(d[0])).y(d => yR(d[1]));
gr.append("path")
    .attr("d", lineR(rs.map((v, i) => [i, v])))
    .attr("fill", "none")
    .attr("stroke", "#1f77b4")
    .attr("stroke-width", 3.5)
    .attr("stroke-linejoin", "round");
gr.append("path")
    .attr("d", lineR(rolling(rs, rsWindow).map((v, i) => [i, v])))
    .attr("fill", "none")
    .attr("stroke", "#ff0000")
    .attr("stroke-width", 2.2);

// right axes
function rightAxis(scale, ticks, fmt) {
    const g = svg.append("g")
        .attr("transform", `translate(${R},0)`)
        .call(d3.axisRight(scale).tickValues(ticks).tickFormat(fmt).tickSize(5).tickPadding(5));
    g.select(".domain").remove();
    g.selectAll("line").attr("stroke", "#333");
    g.selectAll("text")
        .style("font-size", FONT + "px")
        .style("font-family", "DejaVu Sans, sans-serif")
        .attr("fill", "#000");
}
rightAxis(yP, priceTicks, d3.format("d"));
rightAxis(yV, volumeTicks, d3.format("d"));
rightAxis(yR, rsTicks, d3.format(".2f"));

// bottom axis
const gx = svg.append("g")
    .attr("transform", `translate(0,${panels.rs.bottom})`)
    .call(d3.axisBottom(x).tickValues(tickIndex).tickFormat((d, i) => tickLabels[i]).tickSize(5).tickPadding(7));
gx.select(".domain").remove();
gx.selectAll("line").attr("stroke", "#333");
gx.selectAll("text")
    .style("font-size", FONT + "px")
    .style("font-family", "DejaVu Sans, sans-serif")
    .attr("fill", "#000");

// axis labels
svg.append("text")
    .attr("transform", "translate(2252,253) rotate(-90)")
    .attr("text-anchor", "middle")
    .attr("dominant-baseline", "central")
    .style("font-size", FONT + "px")
    .text("Price");
svg.append("text")
    .attr("transform", "translate(2217,567) rotate(-90)")
    .attr("text-anchor", "middle")
    .attr("dominant-baseline", "central")
    .style("font-size", FONT + "px")
    .text("Volume");
const off = svg.append("text")
    .attr("transform", "translate(2227,493) rotate(-90)")
    .attr("text-anchor", "start")
    .style("font-size", FONT + "px");
off.append("tspan").text("10");
off.append("tspan").attr("dy", -11).style("font-size", "19px").text("6");

// legend
const lg = svg.append("g");
lg.append("rect")
    .attr("x", 894).attr("y", 619).attr("width", 393).attr("height", 48)
    .attr("rx", 5)
    .attr("fill", "#ffffff").attr("fill-opacity", 0.8)
    .attr("stroke", "#d6d6d6").attr("stroke-width", 1);
lg.append("line")
    .attr("x1", 903).attr("x2", 962).attr("y1", 643).attr("y2", 643)
    .attr("stroke", "#1f77b4").attr("stroke-width", 3.5);
lg.append("text")
    .attr("x", 983).attr("y", 653)
    .style("font-size", FONT + "px")
    .text(legendLabel);

// title
svg.append("text")
    .attr("x", (L + R) / 2).attr("y", 34)
    .attr("text-anchor", "middle")
    .style("font-size", "33px")
    .text(titleText);
</script>
</body>
</html>
